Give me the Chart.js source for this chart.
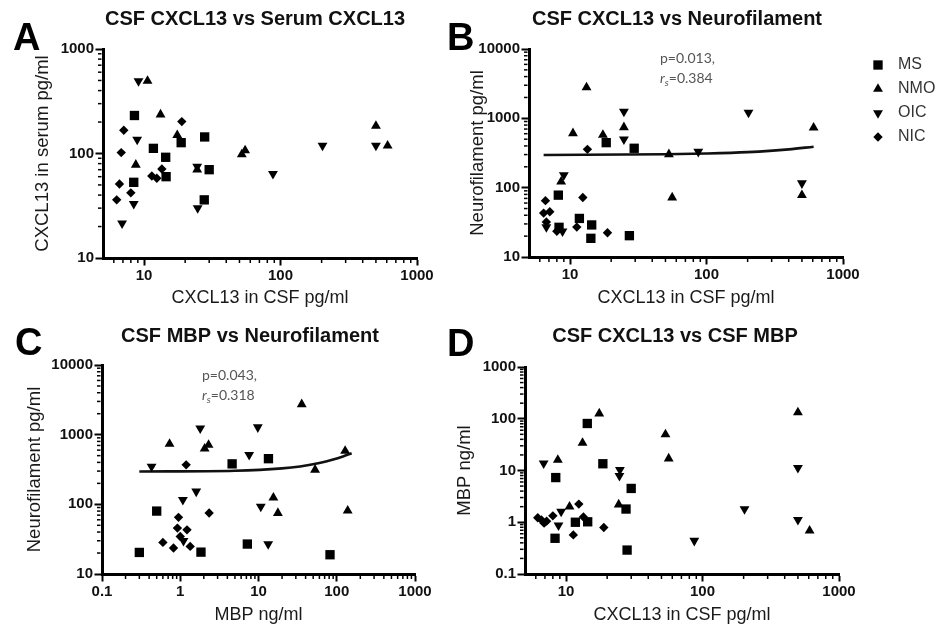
<!DOCTYPE html>
<html><head><meta charset="utf-8">
<script src="https://cdn.jsdelivr.net/npm/chart.js@4/dist/chart.umd.min.js"></script>
<style>
html,body{margin:0;padding:0;background:#fff;}
#wrap{position:relative;width:938px;height:628px;overflow:hidden;background:#fff;}
canvas{position:absolute;left:0;top:0;}
</style></head><body>
<div id="wrap">
<canvas id="cA" width="938" height="628"></canvas>
<canvas id="cB" width="938" height="628"></canvas>
<canvas id="cC" width="938" height="628"></canvas>
<canvas id="cD" width="938" height="628"></canvas>
</div>
<script>
// ---------------- DATA ----------------
const groupNames = ['MS', 'NMO', 'OIC', 'NIC'];

// tick labels
const xTicksCXCL13 = [10, 100, 1000];
const yTicksSerum = [10, 100, 1000];
const yTicksNF = [10, 100, 1000, 10000];
const xTicksMBP = [0.1, 1, 10, 100, 1000];
const yTicksMBP = [0.1, 1, 10, 100, 1000];

// Panel A: CSF CXCL13 (x) vs serum CXCL13 (y)
const A_MS  = [[8.5,231],[11.7,112],[14.4,92],[8.4,53],[14.5,60],[18.7,127],[27.8,144],[30,70],[27.6,36]];
const A_NMO = [[10.6,494],[13.2,236],[8.7,78],[17.5,150],[24.5,70],[55,107],[52,98],[500,184],[609,119]];
const A_OIC = [[9.1,494],[8.9,136],[8.4,33],[6.9,21.5],[24.5,75],[24.7,30],[88,64],[203,119],[500,119]];
const A_NIC = [[7.1,167],[6.8,102],[6.6,51],[6.3,36],[8.0,42],[11.4,61],[12.4,58],[13.5,71],[18.9,202]];

// Panel B: CSF CXCL13 (x) vs neurofilament (y)
const B_MS  = [[8.2,78],[8.3,26.8],[11.7,36],[14.4,29],[14.2,18.6],[18.4,446],[29.5,370],[27.2,20.3]];
const B_NMO = [[13.2,2800],[10.5,608],[17.4,575],[24.8,743],[53,303],[56,72],[609,733],[8.6,122],[500,78]];
const B_OIC = [[6.7,27],[8.8,23.5],[9.0,152],[24.8,499],[24.8,1250],[203,1208],[87,330],[500,116]];
const B_NIC = [[6.6,65],[12.4,72],[6.4,43],[7.1,45],[6.7,32],[8.0,23.5],[11.2,27],[18.8,22.4],[13.4,357]];
const B_fit = [[6.4,296],[50,303],[100,311],[200,326],[400,357],[609,390]];

// Panel C: MBP (x) vs neurofilament (y)
const C_MS  = [[0.30,20.4],[0.50,80],[1.84,20.6],[4.6,381],[7.2,26.9],[13.4,452],[82,18.9]];
const C_NMO = [[0.73,737],[2.05,631],[2.3,713],[35.7,2730],[128,585],[52.8,313],[15.5,125],[17.7,75],[138,81]];
const C_OIC = [[0.43,349],[1.8,1236],[9.8,1280],[7.6,513],[1.6,153],[1.08,116],[10.7,93],[13.3,26.8],[1.1,30]];
const C_NIC = [[1.19,369],[2.34,75],[0.95,65],[0.60,28.4],[0.82,23.6],[1.34,24.9],[0.92,45.6],[1.22,43],[1.0,34.6]];
const C_fit = [[0.3,296],[5,304],[20,328],[34,350],[60,391],[90,439],[120,487],[155,542]];

// Panel D: CSF CXCL13 (x) vs MBP (y)
const D_MS  = [[14.3,81],[8.4,7.3],[18.6,13.5],[30,4.5],[27.5,1.8],[11.7,1.0],[14.4,1.02],[8.3,0.49],[28,0.29]];
const D_NMO = [[17.5,126],[13.2,34],[8.7,16],[53.5,50],[56.5,17],[500,132],[609,0.69],[10.6,2.0],[24.3,2.2]];
const D_OIC = [[6.85,13.8],[24.8,10.3],[24.6,7.9],[500,11.3],[500,1.11],[203,1.8],[87,0.44],[9.2,1.61],[8.8,0.87]];
const D_NIC = [[6.2,1.22],[6.6,1.11],[6.9,0.96],[8.0,1.33],[12.4,2.24],[13.4,1.26],[11.3,0.57],[18.9,0.79],[7.2,1.05]];

// ---------------- STYLE / LAYOUT ----------------
const FONT = '"Liberation Sans", Arial, Helvetica, sans-serif';
const W = 938, H = 628;
const groupStyle = {
  MS:  {pointStyle: 'rect', rotation: 0, radius: 6.6},
  NMO: {pointStyle: 'triangle', rotation: 0, radius: 5.7},
  OIC: {pointStyle: 'triangle', rotation: 180, radius: 5.7},
  NIC: {pointStyle: 'rectRot', rotation: 0, radius: 4.7}
};
const toXY = arr => arr.map(([x, y]) => ({x, y}));

function groupDatasets(sets) {
  return groupNames.map((g, i) => ({
    label: g, data: toXY(sets[i]), isGroup: true,
    pointStyle: groupStyle[g].pointStyle, pointRotation: groupStyle[g].rotation,
    pointRadius: groupStyle[g].radius, pointHoverRadius: groupStyle[g].radius,
    pointBackgroundColor: '#000', pointBorderWidth: 0, backgroundColor: '#000',
    borderColor: '#000', showLine: false, clip: false
  }));
}
function fitDataset(arr) {
  return {label: 'fit', data: toXY(arr), showLine: true, pointRadius: 0, borderColor: '#111',
    borderWidth: 2.6, cubicInterpolationMode: 'monotone', fill: false, clip: false};
}

function scaleOpts(ax, size, dir, titlePad) {
  return {
    type: 'logarithmic', min: ax.min, max: ax.max, position: dir === 'x' ? 'bottom' : 'left',
    afterBuildTicks: s => { s.ticks = ax.ticks.map(v => ({value: v})); },
    afterFit: s => { if (dir === 'x') s.height = size; else s.width = size; },
    border: {display: true, width: 3, color: '#000'},
    grid: {display: true, drawOnChartArea: false, drawTicks: true, tickLength: 7.5, tickWidth: 2, tickColor: '#000'},
    ticks: {autoSkip: false, maxRotation: 0, minRotation: 0, padding: dir === 'x' ? 1 : 1.5, color: '#111',
      font: {family: FONT, size: 15, weight: 'bold'}, callback: v => String(v)},
    title: {display: true, text: ax.title, color: '#1a1a1a',
      font: {family: FONT, size: dir === 'x' ? 18 : 18.5},
      padding: dir === 'x' ? {top: 0, bottom: titlePad} : {top: titlePad, bottom: 0}}
  };
}

const minorTicks = {
  id: 'minorTicks',
  afterDraw(chart) {
    const ctx = chart.ctx;
    ['x', 'y'].forEach(k => {
      const s = chart.scales[k];
      const decs = s.ticks.map(t => t.value);
      const all = [decs[0] / 10].concat(decs);
      ctx.save(); ctx.strokeStyle = '#000'; ctx.lineWidth = 1.5;
      all.forEach(d => {
        for (let m = 2; m <= 9; m++) {
          const v = d * m;
          if (v < s.min * 1.0001 || v > s.max * 0.9999) continue;
          const p = s.getPixelForValue(v);
          ctx.beginPath();
          if (k === 'x') { ctx.moveTo(p, s.top + 1.5); ctx.lineTo(p, s.top + 5); }
          else { ctx.moveTo(s.right - 1.5, p); ctx.lineTo(s.right - 5, p); }
          ctx.stroke();
        }
      });
      ctx.restore();
    });
  }
};

function textPlugin(items) {
  return {
    id: 'pageText',
    afterDraw(chart) {
      const ctx = chart.ctx;
      ctx.save();
      items.forEach(it => {
        ctx.fillStyle = it.color; ctx.textBaseline = 'alphabetic'; ctx.textAlign = 'left';
        let x = it.x;
        if (it.align === 'center') {
          let w = 0;
          it.parts.forEach(p => { ctx.font = p.font; w += ctx.measureText(p.t).width; });
          x -= w / 2;
        }
        it.parts.forEach(p => {
          ctx.font = p.font; ctx.fillText(p.t, x, it.y + (p.dy || 0));
          x += ctx.measureText(p.t).width;
        });
      });
      ctx.restore();
    }
  };
}
const TITLE_F = 'bold 20px ' + FONT;
const LETTER_F = 'bold 38px ' + FONT;
const ANN = '14px Lato, "Open Sans", sans-serif';
const ANN_I = 'italic 14px Lato, "Open Sans", sans-serif';
const ANN_S = 'italic 10px Lato, "Open Sans", sans-serif';
function panelTexts(title, tx, ty, letter, lx, ly) {
  return [
    {x: tx, y: ty, align: 'center', color: '#111', parts: [{t: title, font: TITLE_F}]},
    {x: lx, y: ly, color: '#000', parts: [{t: letter, font: LETTER_F}]}
  ];
}
function statTexts(x, y, p, r) {
  return [
    {x: x, y: y, color: '#555', parts: [{t: p, font: ANN}]},
    {x: x, y: y + 20, color: '#555', parts: [{t: 'r', font: ANN_I}, {t: 's', font: ANN_S, dy: 3}, {t: r, font: ANN}]}
  ];
}

const legendGeo = {x: 878, textX: 898, y0: 65, dy: 24};
const legendPlugin = {
  id: 'groupLegend',
  afterDraw(chart) {
    const ctx = chart.ctx;
    ctx.save();
    chart.data.datasets.filter(d => d.isGroup).forEach((d, i) => {
      const y = legendGeo.y0 + i * legendGeo.dy;
      ctx.fillStyle = '#000';
      Chart.helpers.drawPoint(ctx, {pointStyle: d.pointStyle, rotation: d.pointRotation, radius: d.pointRadius, borderWidth: 0}, legendGeo.x, y);
      ctx.fillStyle = '#333'; ctx.font = '16px ' + FONT; ctx.textBaseline = 'middle'; ctx.textAlign = 'left';
      ctx.fillText(d.label, legendGeo.textX, y);
    });
    ctx.restore();
  }
};

function makeChart(id, geo, datasets, xAxis, yAxis, extra) {
  return new Chart(document.getElementById(id), {
    type: 'scatter',
    data: {datasets},
    options: {
      responsive: false, animation: false, events: [],
      layout: {padding: {left: geo.L - geo.YW, top: geo.T, right: W - geo.R, bottom: H - geo.B - geo.XH}},
      plugins: {legend: {display: false}, tooltip: {enabled: false}, title: {display: false}},
      scales: {
        x: scaleOpts(xAxis, geo.XH, 'x', geo.xTitlePad),
        y: scaleOpts(yAxis, geo.YW, 'y', geo.yTitlePad)
      }
    },
    plugins: [minorTicks].concat(extra)
  });
}

const xCX = {min: 5, max: 1000, ticks: xTicksCXCL13, title: 'CXCL13 in CSF pg/ml'};

makeChart('cA', {L: 103, T: 49, R: 417, B: 258, YW: 103, XH: 52, yTitlePad: 32, xTitlePad: 1},
  groupDatasets([A_MS, A_NMO, A_OIC, A_NIC]),
  xCX, {min: 10, max: 1000, ticks: yTicksSerum, title: 'CXCL13 in serum pg/ml'},
  [textPlugin(panelTexts('CSF CXCL13 vs Serum CXCL13', 255, 25, 'A', 13, 50))]);

makeChart('cB', {L: 529, T: 49, R: 843, B: 257, YW: 62, XH: 53, yTitlePad: 0, xTitlePad: 1},
  groupDatasets([B_MS, B_NMO, B_OIC, B_NIC]).concat([fitDataset(B_fit)]),
  xCX, {min: 10, max: 10000, ticks: yTicksNF, title: 'Neurofilament pg/ml'},
  [legendPlugin, textPlugin(panelTexts('CSF CXCL13 vs Neurofilament', 677, 25, 'B', 447, 50)
     .concat(statTexts(660, 63, 'p=0.013,', '=0.384')))]);

makeChart('cC', {L: 102, T: 365, R: 415, B: 574, YW: 102, XH: 52, yTitlePad: 24, xTitlePad: 0},
  groupDatasets([C_MS, C_NMO, C_OIC, C_NIC]).concat([fitDataset(C_fit)]),
  {min: 0.1, max: 1000, ticks: xTicksMBP, title: 'MBP ng/ml'},
  {min: 10, max: 10000, ticks: yTicksNF, title: 'Neurofilament pg/ml'},
  [textPlugin(panelTexts('CSF MBP vs Neurofilament', 250, 341.5, 'C', 15, 355)
     .concat(statTexts(202, 380, 'p=0.043,', '=0.318')))]);

makeChart('cD', {L: 525, T: 367, R: 839, B: 574, YW: 73, XH: 52, yTitlePad: 2, xTitlePad: 0},
  groupDatasets([D_MS, D_NMO, D_OIC, D_NIC]),
  xCX, {min: 0.1, max: 1000, ticks: yTicksMBP, title: 'MBP ng/ml'},
  [textPlugin(panelTexts('CSF CXCL13 vs CSF MBP', 675, 341.5, 'D', 447, 356))]);
</script>
</body></html>
